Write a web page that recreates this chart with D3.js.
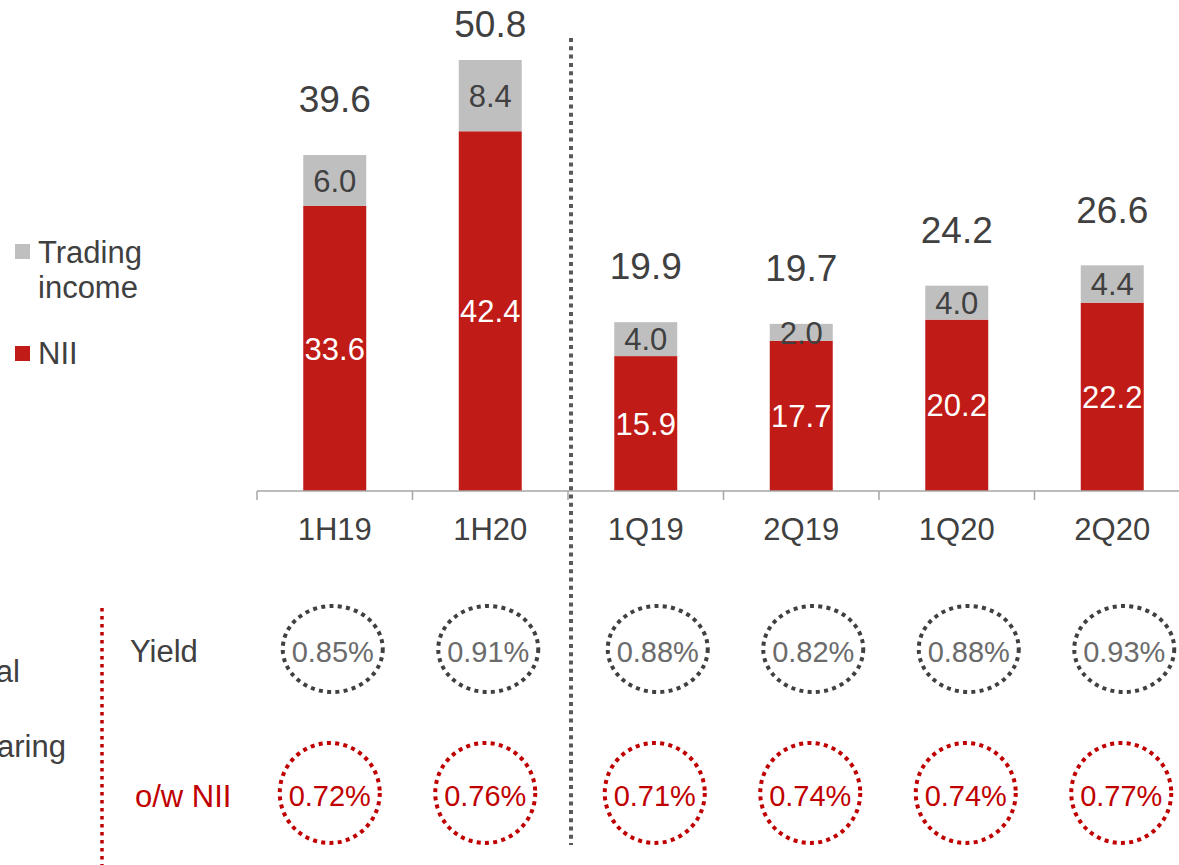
<!DOCTYPE html>
<html>
<head>
<meta charset="utf-8">
<script src="https://cdn.jsdelivr.net/npm/d3@7"></script>
<style>
  body { margin: 0; background: #fff; }
  svg { display: block; font-family: "Liberation Sans", Arial, sans-serif; }
</style>
</head>
<body>
<div id="chart"></div>
<script>
// data
var categories = ["1H19", "1H20", "1Q19", "2Q19", "1Q20", "2Q20"];
var nii = [33.6, 42.4, 15.9, 17.7, 20.2, 22.2];
var trading = [6.0, 8.4, 4.0, 2.0, 4.0, 4.4];
var totals = [39.6, 50.8, 19.9, 19.7, 24.2, 26.6];
var yieldPct = ["0.85%", "0.91%", "0.88%", "0.82%", "0.88%", "0.93%"];
var niiPct = ["0.72%", "0.76%", "0.71%", "0.74%", "0.74%", "0.77%"];

var red = "#C11B17", grey = "#BFBFBF", dark = "#404040";

var width = 1179, height = 865;
var svg = d3.select("#chart").append("svg")
    .attr("width", width)
    .attr("height", height);

var x = d3.scaleBand()
    .domain(categories)
    .range([257, 1190]);

var bw = x.bandwidth();
var barW = bw * 0.405;

var y = d3.scaleLinear()
    .domain([0, 50.8])
    .range([491, 60]);

// stacked bars
var stacked = categories.map(function (c, i) {
    return { cat: c, nii: nii[i], tr: trading[i], total: totals[i], i: i };
});

var g = svg.append("g");

g.selectAll(".nii").data(stacked).enter().append("rect")
    .attr("x", function (d) { return x(d.cat) + (bw - barW) / 2; })
    .attr("width", barW)
    .attr("y", function (d) { return y(d.nii); })
    .attr("height", function (d) { return y(0) - y(d.nii); })
    .attr("fill", red);

g.selectAll(".tr").data(stacked).enter().append("rect")
    .attr("x", function (d) { return x(d.cat) + (bw - barW) / 2; })
    .attr("width", barW)
    .attr("y", function (d) { return y(d.nii + d.tr); })
    .attr("height", function (d) { return y(d.nii) - y(d.nii + d.tr); })
    .attr("fill", grey);

// segment labels
g.selectAll(".niiLab").data(stacked).enter().append("text")
    .attr("x", function (d) { return x(d.cat) + bw / 2; })
    .attr("y", function (d) { return (y(0) + y(d.nii)) / 2; })
    .attr("dy", "0.36em")
    .attr("text-anchor", "middle")
    .attr("fill", "#fff")
    .style("font-size", "31px")
    .text(function (d) { return d.nii.toFixed(1); });

g.selectAll(".trLab").data(stacked).enter().append("text")
    .attr("x", function (d) { return x(d.cat) + bw / 2; })
    .attr("y", function (d) { return (y(d.nii) + y(d.nii + d.tr)) / 2; })
    .attr("dy", "0.36em")
    .attr("text-anchor", "middle")
    .attr("fill", dark)
    .style("font-size", "31px")
    .text(function (d) { return d.tr.toFixed(1); });

// totals above
g.selectAll(".totLab").data(stacked).enter().append("text")
    .attr("x", function (d) { return x(d.cat) + bw / 2; })
    .attr("y", function (d) { return Math.max(y(d.nii + d.tr) - 56, 24); })
    .attr("dy", "0.36em")
    .attr("text-anchor", "middle")
    .attr("fill", dark)
    .style("font-size", "37px")
    .text(function (d) { return d.total.toFixed(1); });

// axis: baseline with ticks on band edges
var axis = svg.append("g");
axis.append("line")
    .attr("x1", x.range()[0]).attr("x2", x.range()[1])
    .attr("y1", y(0)).attr("y2", y(0))
    .attr("stroke", "#A6A6A6").attr("stroke-width", 1.5);
axis.selectAll(".tick").data(categories).enter().append("line")
    .attr("x1", function (c) { return x(c); })
    .attr("x2", function (c) { return x(c); })
    .attr("y1", y(0)).attr("y2", y(0) + 9)
    .attr("stroke", "#A6A6A6").attr("stroke-width", 1.5);
axis.selectAll(".lab").data(categories).enter().append("text")
    .attr("x", function (c) { return x(c) + bw / 2; })
    .attr("y", 540)
    .attr("text-anchor", "middle")
    .attr("fill", dark)
    .style("font-size", "31px")
    .text(function (c) { return c; });

// divider between half-years and quarters
svg.append("line")
    .attr("x1", 571).attr("x2", 571)
    .attr("y1", 38).attr("y2", 845)
    .attr("stroke", "#595959").attr("stroke-width", 4)
    .attr("stroke-dasharray", "4,4.3");

// legend
var legend = svg.append("g");
legend.append("rect").attr("x", 15).attr("y", 244).attr("width", 15).attr("height", 15).attr("fill", grey);
legend.append("text").attr("x", 38).attr("y", 263).attr("fill", dark).style("font-size", "31px").text("Trading");
legend.append("text").attr("x", 38).attr("y", 298).attr("fill", dark).style("font-size", "31px").text("income");
legend.append("rect").attr("x", 15).attr("y", 346).attr("width", 15).attr("height", 15).attr("fill", red);
legend.append("text").attr("x", 38).attr("y", 364).attr("fill", dark).style("font-size", "31px").text("NII");

// bottom panel
var lower = svg.append("g");
lower.append("text").attr("x", 20).attr("y", 682).attr("text-anchor", "end")
    .attr("fill", dark).style("font-size", "31px").text("Total");
lower.append("text").attr("x", 66).attr("y", 757).attr("text-anchor", "end")
    .attr("fill", dark).style("font-size", "31px").text("interest-bearing");
lower.append("line")
    .attr("x1", 102).attr("x2", 102)
    .attr("y1", 608).attr("y2", 865)
    .attr("stroke", "#C00000").attr("stroke-width", 3.5)
    .attr("stroke-dasharray", "3.5,4.5");
lower.append("text").attr("x", 130).attr("y", 662)
    .attr("fill", dark).style("font-size", "31px").text("Yield");
lower.append("text").attr("x", 135).attr("y", 807)
    .attr("fill", "#C00000").style("font-size", "31px").text("o/w NII");

// circle centres: quarters sit a bit right of their bars
function cx(c, i) { return x(c) + bw / 2 + (i < 2 ? -2 : 12); }

lower.selectAll(".yc").data(yieldPct).enter().append("ellipse")
    .attr("cx", function (d, i) { return cx(categories[i], i); })
    .attr("cy", 649)
    .attr("rx", 50).attr("ry", 43)
    .attr("fill", "none")
    .attr("stroke", "#404040").attr("stroke-width", 4)
    .attr("stroke-dasharray", "4,4.3");
lower.selectAll(".yt").data(yieldPct).enter().append("text")
    .attr("x", function (d, i) { return cx(categories[i], i); })
    .attr("y", 662)
    .attr("text-anchor", "middle")
    .attr("fill", "#6B6B6B")
    .style("font-size", "29px")
    .text(function (d) { return d; });

lower.selectAll(".nc").data(niiPct).enter().append("circle")
    .attr("cx", function (d, i) { return cx(categories[i], i) - 3; })
    .attr("cy", 793)
    .attr("r", 50)
    .attr("fill", "none")
    .attr("stroke", "#C00000").attr("stroke-width", 4)
    .attr("stroke-dasharray", "4,4.3");
lower.selectAll(".nt").data(niiPct).enter().append("text")
    .attr("x", function (d, i) { return cx(categories[i], i) - 3; })
    .attr("y", 806)
    .attr("text-anchor", "middle")
    .attr("fill", "#C00000")
    .style("font-size", "29px")
    .text(function (d) { return d; });
</script>
</body>
</html>
